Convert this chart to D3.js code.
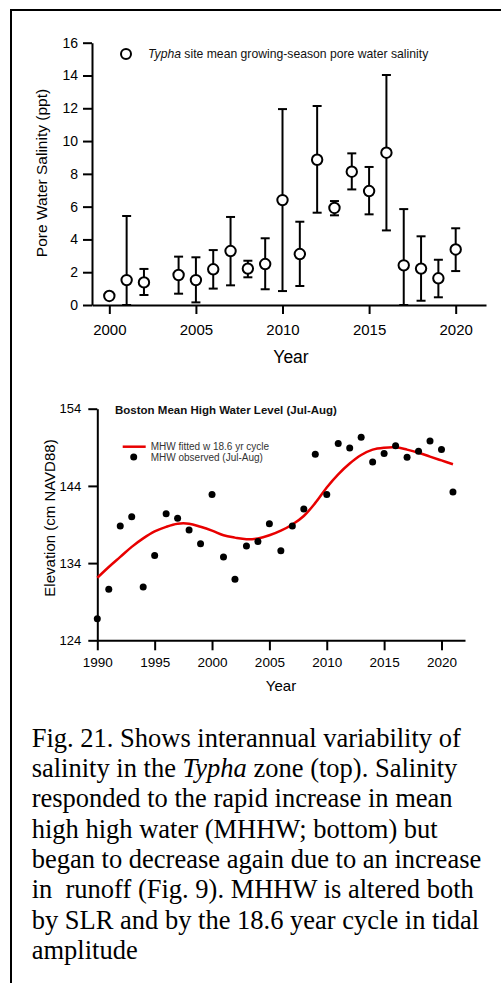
<!DOCTYPE html>
<html>
<head>
<meta charset="utf-8">
<script src="https://cdn.jsdelivr.net/npm/d3@7"></script>
<style>
  html, body { margin: 0; padding: 0; background: #fff; }
  svg { display: block; }
  .ax path, .ax line { stroke: #000; stroke-width: 2; }
  .ax text { font-family: "Liberation Sans", Arial, sans-serif; fill: #000; }
</style>
</head>
<body>
<script>
// ---------- Top chart data: Typha pore water salinity ----------
const salYears = [2000, 2001, 2002, 2004, 2005, 2006, 2007, 2008, 2009, 2010,
                  2011, 2012, 2013, 2014, 2015, 2016, 2017, 2018, 2019, 2020];
const salMean  = [0.55, 1.52, 1.38, 1.83, 1.52, 2.18, 3.29, 2.22, 2.50, 6.40,
                  3.11, 8.86, 5.92, 8.13, 6.95, 9.29, 2.42, 2.22, 1.63, 3.39];
const salLow   = [0.55, 0.00, 0.61, 0.69, 0.16, 1.00, 1.20, 1.69, 0.96, 0.85,
                  1.16, 5.63, 5.47, 7.05, 5.53, 4.55, 0.00, 0.26, 0.47, 2.07];
const salHigh  = [0.55, 5.43, 2.20, 2.95, 2.91, 3.35, 5.37, 2.70, 4.07, 11.95,
                  5.08, 12.14, 6.34, 9.25, 8.42, 14.03, 5.85, 4.19, 2.76, 4.68];
const salYTicks = [0, 2, 4, 6, 8, 10, 12, 14, 16];
const salXTicks = [2000, 2005, 2010, 2015, 2020];

// ---------- Bottom chart data: Boston MHW (Jul-Aug) ----------
const mhwYears = [1990, 1991, 1992, 1993, 1994, 1995, 1996, 1997, 1998, 1999,
                  2000, 2001, 2002, 2003, 2004, 2005, 2006, 2007, 2008, 2009,
                  2010, 2011, 2012, 2013, 2014, 2015, 2016, 2017, 2018, 2019,
                  2020, 2021];
const mhwObserved = [126.8, 130.6, 138.8, 140.0, 130.9, 135.0, 140.4, 139.8, 138.3, 136.5,
                     142.9, 134.8, 131.9, 136.2, 136.8, 139.1, 135.6, 138.8, 141.0, 148.1,
                     142.9, 149.5, 148.9, 150.3, 147.1, 148.2, 149.2, 147.7, 148.5, 149.8,
                     148.7, 143.2];
const mhwFitted = [132.1, 133.5, 134.8, 136.1, 137.2, 138.1, 138.7, 139.1, 139.1, 138.7,
                   138.2, 137.6, 137.3, 137.1, 137.2, 137.6, 138.2, 139.0, 140.1, 141.8,
                   143.8, 145.5, 146.9, 148.0, 148.7, 148.95, 149.0, 148.7, 148.3, 147.8,
                   147.3, 146.8];
const mhwYTicks = [124, 134, 144, 154];
const mhwXTicks = [1990, 1995, 2000, 2005, 2010, 2015, 2020];

// ---------- Caption ----------
const captionLines = [
  [["Fig. 21. Shows interannual variability of", false]],
  [["salinity in the ", false], ["Typha", true], [" zone (top). Salinity", false]],
  [["responded to the rapid increase in mean", false]],
  [["high high water (MHHW; bottom) but", false]],
  [["began to decrease again due to an increase", false]],
  [["in  runoff (Fig. 9). MHHW is altered both", false]],
  [["by SLR and by the 18.6 year cycle in tidal", false]],
  [["amplitude", false]]
];

const W = 501, H = 983;
const SANS = '"Liberation Sans", Arial, sans-serif';
const SERIF = '"Liberation Serif", "Times New Roman", serif';

const svg = d3.select("body").append("svg")
  .attr("width", W).attr("height", H)
  .attr("viewBox", `0 0 ${W} ${H}`);

svg.append("rect").attr("width", W).attr("height", H).attr("fill", "#fff");

// Frame (top and left edges)
svg.append("path")
  .attr("d", `M11,${H} V10 H${W}`)
  .attr("fill", "none").attr("stroke", "#000").attr("stroke-width", 2);

// ================= TOP CHART =================
const x1 = d3.scaleLinear().domain([1999, 2021.75]).range([92, 486]);
const y1 = d3.scaleLinear().domain([0, 16]).range([305, 42.7]);

const gTop = svg.append("g");

gTop.append("g").attr("class", "ax")
  .attr("transform", `translate(0,${y1(0)})`)
  .call(d3.axisBottom(x1).tickValues(salXTicks).tickFormat(d3.format("d"))
        .tickSize(9).tickSizeOuter(0).tickPadding(10))
  .selectAll("text").style("font-size", "15px");

gTop.append("g").attr("class", "ax")
  .attr("transform", `translate(${x1(1999)},0)`)
  .call(d3.axisLeft(y1).tickValues(salYTicks).tickSize(9).tickSizeOuter(0).tickPadding(5))
  .selectAll("text").style("font-size", "14px");

gTop.append("text")
  .attr("x", 291).attr("y", 363)
  .attr("text-anchor", "middle")
  .style("font-family", SANS).style("font-size", "17.5px")
  .text("Year");

gTop.append("text")
  .attr("transform", "translate(47,173) rotate(-90)")
  .attr("text-anchor", "middle")
  .style("font-family", SANS).style("font-size", "15.5px")
  .text("Pore Water Salinity (ppt)");

const salData = salYears.map((yr, i) => ({yr, m: salMean[i], lo: salLow[i], hi: salHigh[i]}));
const eb = gTop.append("g").attr("stroke", "#000").attr("stroke-width", 2);
salData.filter(d => d.hi > d.lo).forEach(d => {
  eb.append("line").attr("x1", x1(d.yr)).attr("x2", x1(d.yr))
    .attr("y1", y1(d.lo)).attr("y2", y1(d.hi));
  eb.append("line").attr("x1", x1(d.yr) - 4.5).attr("x2", x1(d.yr) + 4.5)
    .attr("y1", y1(d.hi)).attr("y2", y1(d.hi));
  eb.append("line").attr("x1", x1(d.yr) - 4.5).attr("x2", x1(d.yr) + 4.5)
    .attr("y1", y1(d.lo)).attr("y2", y1(d.lo));
});
gTop.append("g").selectAll("circle").data(salData).join("circle")
  .attr("cx", d => x1(d.yr)).attr("cy", d => y1(d.m)).attr("r", 5.2)
  .attr("fill", "#fff").attr("stroke", "#000").attr("stroke-width", 2);

// legend
gTop.append("circle").attr("cx", 126).attr("cy", 54).attr("r", 5)
  .attr("fill", "#fff").attr("stroke", "#000").attr("stroke-width", 2);
const lt = gTop.append("text").attr("x", 148).attr("y", 58)
  .style("font-family", SANS).style("font-size", "12.2px").attr("fill", "#111");
lt.append("tspan").style("font-style", "italic").text("Typha");
lt.append("tspan").text(" site mean growing-season pore water salinity");

// ================= BOTTOM CHART =================
const x2 = d3.scaleLinear().domain([1990, 2022.05]).range([97.3, 465]);
const y2 = d3.scaleLinear().domain([124, 154]).range([640.3, 408.7]);

const gBot = svg.append("g");

gBot.append("g").attr("class", "ax")
  .attr("transform", `translate(0,${y2(124)})`)
  .call(d3.axisBottom(x2).tickValues(mhwXTicks).tickFormat(d3.format("d"))
        .tickSize(10).tickSizeOuter(0).tickPadding(7))
  .selectAll("text").style("font-size", "13.5px");

gBot.append("g").attr("class", "ax")
  .attr("transform", `translate(${x2(1990)},0)`)
  .call(d3.axisLeft(y2).tickValues(mhwYTicks).tickSize(9).tickSizeOuter(0).tickPadding(7))
  .selectAll("text").style("font-size", "13px");

gBot.append("text")
  .attr("x", 281).attr("y", 691)
  .attr("text-anchor", "middle")
  .style("font-family", SANS).style("font-size", "15px")
  .text("Year");

gBot.append("text")
  .attr("transform", "translate(55,518) rotate(-90)")
  .attr("text-anchor", "middle")
  .style("font-family", SANS).style("font-size", "15px")
  .text("Elevation (cm NAVD88)");

gBot.append("text")
  .attr("x", 115).attr("y", 413.5)
  .style("font-family", SANS).style("font-size", "11.5px").style("font-weight", "bold")
  .attr("fill", "#111")
  .text("Boston Mean High Water Level (Jul-Aug)");

const fitLine = d3.line()
  .x((d, i) => x2(mhwYears[i]))
  .y(d => y2(d))
  .curve(d3.curveCatmullRom.alpha(0.5));
gBot.append("path").datum(mhwFitted)
  .attr("d", fitLine)
  .attr("fill", "none").attr("stroke", "#e80000").attr("stroke-width", 2.5);

gBot.append("g").selectAll("circle").data(mhwObserved).join("circle")
  .attr("cx", (d, i) => x2(mhwYears[i])).attr("cy", d => y2(d)).attr("r", 3.5)
  .attr("fill", "#000");

// legend
gBot.append("line").attr("x1", 122.7).attr("x2", 145.7).attr("y1", 446.7).attr("y2", 446.7)
  .attr("stroke", "#e80000").attr("stroke-width", 2.5);
gBot.append("text").attr("x", 150.7).attr("y", 450.3)
  .style("font-family", SANS).style("font-size", "10px").attr("fill", "#333")
  .text("MHW fitted w 18.6 yr cycle");
gBot.append("circle").attr("cx", 133.7).attr("cy", 457).attr("r", 3.5).attr("fill", "#000");
gBot.append("text").attr("x", 150.7).attr("y", 460.5)
  .style("font-family", SANS).style("font-size", "10px").attr("fill", "#333")
  .text("MHW observed (Jul-Aug)");

// ================= CAPTION =================
const cap = svg.append("g");
captionLines.forEach((parts, i) => {
  const t = cap.append("text")
    .attr("x", 31.7).attr("y", 746.7 + i * 30.33)
    .style("font-family", SERIF).style("font-size", "26.5px")
    .style("white-space", "pre").attr("fill", "#000");
  parts.forEach(([s, it]) => {
    const sp = t.append("tspan").text(s);
    if (it) sp.style("font-style", "italic");
  });
});
</script>
</body>
</html>
